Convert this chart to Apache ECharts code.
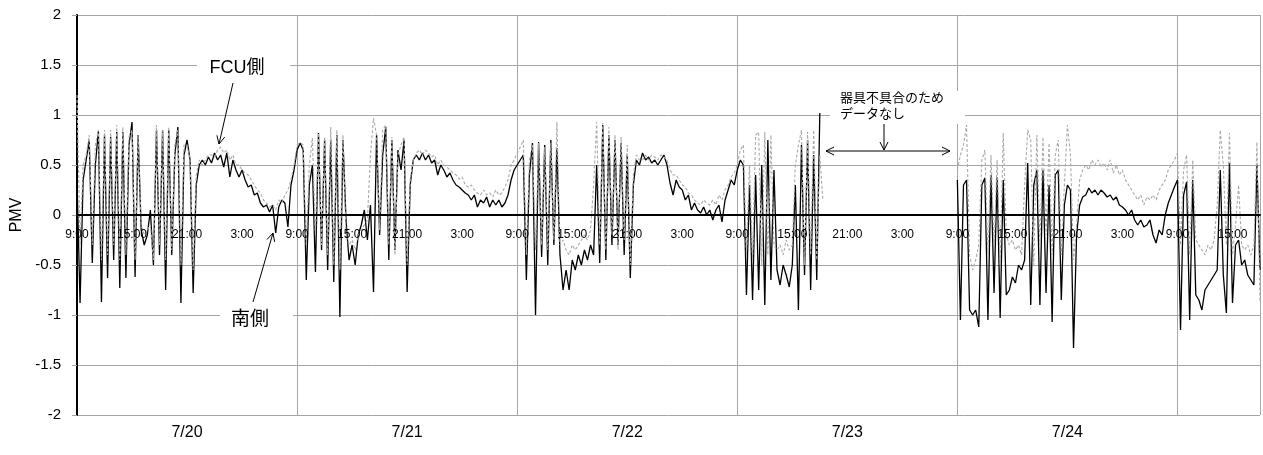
<!DOCTYPE html>
<html><head><meta charset="utf-8">
<script src="https://cdn.jsdelivr.net/npm/echarts@6/dist/echarts.min.js"></script>
<style>html,body{margin:0;padding:0;background:#fff}#c{width:1263px;height:455px}</style>
</head><body><div id="c"></div><script>
// ---- data (PMV, 20-minute readings starting 7/20 9:00) ----
const seriesNames = ['南側', 'FCU側'];
const dateLabels = ['7/20', '7/21', '7/22', '7/23', '7/24'];
const startHour = 9;          // first reading at 9:00
const stepHours = 1 / 3;      // 20 minutes between readings
const pointsPerDay = 72;

const southDay1 = [0.35,-0.88,0.35,0.55,0.75,-0.48,0.5,0.84,-0.87,0.8,-0.63,0.78,
  -0.45,0.83,-0.73,0.83,-0.63,0.7,0.93,-0.62,0.8,-0.15,-0.3,-0.2,
  0.05,-0.5,0.85,-0.4,0.85,-0.75,0.85,-0.4,0.6,0.88,-0.88,0.6,
  0.75,0.55,-0.78,0.3,0.5,0.55,0.5,0.58,0.52,0.62,0.55,0.6,
  0.48,0.62,0.38,0.55,0.45,0.38,0.45,0.35,0.28,0.3,0.2,0.22,
  0.12,0.08,0.1,0.03,0.1,-0.18,0.08,0.15,0.12,-0.12,0.3,0.45];
const fcuDay1 = [1.2,-0.3,0.5,0.6,0.8,-0.3,0.7,0.85,-0.45,0.85,-0.4,0.85,
  -0.3,0.9,-0.45,0.88,-0.4,0.78,0.85,-0.45,0.8,-0.1,-0.2,-0.15,
  -0.1,-0.45,0.9,-0.3,0.85,-0.45,0.88,-0.35,0.7,0.85,-0.5,0.7,
  0.7,0.55,-0.55,0.4,0.55,0.5,0.55,0.6,0.6,0.58,0.65,0.68,
  0.62,0.65,0.55,0.6,0.5,0.5,0.45,0.42,0.4,0.35,0.3,0.25,
  0.22,0.15,0.12,0.08,0.1,0.05,0.15,0.12,0.2,0.25,0.35,0.5];

const southDay2 = [0.65,0.72,0.65,-0.65,0.3,0.5,-0.57,0.82,-0.35,0.75,-0.55,0.75,
  -0.67,0.8,-1.02,0.75,-0.05,-0.45,-0.3,-0.5,-0.2,-0.1,0.05,-0.25,
  0.1,-0.77,0.8,-0.2,0.6,0.88,-0.45,0.75,-0.35,0.65,0.45,0.75,
  -0.77,0.3,0.55,0.6,0.55,0.62,0.55,0.6,0.52,0.55,0.4,0.5,
  0.45,0.38,0.42,0.35,0.3,0.28,0.25,0.22,0.2,0.15,0.2,0.08,
  0.15,0.12,0.18,0.08,0.15,0.1,0.15,0.08,0.12,0.2,0.35,0.45];
const fcuDay2 = [0.7,0.72,0.7,-0.3,0.5,0.77,-0.2,0.82,-0.3,0.78,-0.4,0.88,
  -0.5,0.85,-0.55,0.8,-0.2,-0.3,-0.25,-0.35,-0.2,-0.15,-0.1,-0.05,
  0.6,0.97,0.8,-0.15,0.85,0.9,-0.3,0.78,-0.4,0.6,0.7,0.78,
  -0.5,0.35,0.55,0.62,0.65,0.6,0.65,0.62,0.58,0.6,0.5,0.55,
  0.5,0.48,0.45,0.42,0.4,0.36,0.38,0.3,0.28,0.3,0.25,0.22,
  0.2,0.25,0.2,0.22,0.18,0.25,0.2,0.22,0.28,0.35,0.5,0.55];

const southDay3 = [0.5,0.55,0.6,-0.65,0.4,0.72,-1.0,0.73,-0.42,0.7,-0.5,0.75,
  -0.3,0.67,-0.4,-0.75,-0.55,-0.75,-0.45,-0.55,-0.4,-0.5,-0.35,-0.45,
  -0.3,-0.4,0.5,-0.48,0.9,-0.45,0.8,-0.3,0.75,-0.3,0.72,-0.4,
  0.6,-0.63,0.3,0.55,0.5,0.62,0.55,0.58,0.52,0.55,0.5,0.55,
  0.6,0.5,0.32,0.2,0.35,0.28,0.25,0.15,0.2,0.05,0.12,0.05,
  0.02,0.08,0.0,0.05,-0.05,0.05,0.1,-0.07,0.15,0.25,0.35,0.3];
const fcuDay3 = [0.62,0.68,0.75,-0.4,0.55,0.7,-0.35,0.72,-0.3,0.68,-0.35,0.72,
  -0.25,0.93,-0.3,-0.25,-0.35,-0.4,-0.3,-0.35,-0.3,-0.25,-0.2,-0.25,
  -0.15,0.3,0.93,-0.3,0.92,-0.35,0.88,-0.2,0.8,-0.35,0.78,-0.25,
  0.7,-0.5,0.4,0.6,0.55,0.55,0.6,0.55,0.6,0.58,0.55,0.6,
  0.58,0.55,0.45,0.4,0.4,0.35,0.3,0.28,0.22,0.2,0.15,0.12,
  0.1,0.15,0.12,0.1,0.15,0.1,0.2,0.15,0.25,0.3,0.38,0.42];

// 7/23: readings stop around 18:00 (instrument fault), resume 7/24 9:00
const southDay4 = [0.45,0.55,0.5,-0.8,0.3,-0.85,0.4,-0.75,0.5,-0.9,0.75,-0.65,
  0.45,-0.55,-0.7,-0.5,-0.6,-0.72,-0.5,0.3,-0.95,0.7,-0.6,0.75,
  -0.75,0.6,-0.65,1.02];
const fcuDay4 = [0.5,0.65,0.7,-0.4,0.5,-0.45,0.8,0.83,-0.5,0.83,-0.4,0.8,
  -0.3,-0.35,-0.3,-0.4,-0.25,-0.35,-0.3,0.5,0.7,0.85,-0.5,0.83,
  -0.4,0.85,-0.45,0.6,0.15];

const southDay5 = [0.35,-1.05,0.3,0.35,-0.95,-1.0,-0.95,-1.12,0.3,0.37,-1.05,0.4,
  -0.78,0.38,-1.03,0.35,-0.8,-0.75,-0.62,-0.68,-0.5,-0.55,-0.45,0.52,
  -0.9,0.3,0.45,-0.9,0.45,-0.78,0.3,-1.07,0.4,0.45,-0.85,0.1,
  0.3,0.25,-1.33,-0.2,0.1,0.18,0.2,0.27,0.22,0.25,0.2,0.25,
  0.22,0.18,0.2,0.15,0.18,0.1,0.08,0.05,0.0,0.05,-0.05,-0.1,
  -0.05,-0.12,-0.1,-0.05,-0.2,-0.28,-0.15,-0.2,0.0,0.12,0.2,0.28];
const fcuDay5 = [0.45,0.6,0.7,0.9,-0.4,-0.55,-0.45,-0.3,0.55,0.65,-0.4,0.6,
  -0.3,0.55,-0.5,0.82,-0.2,-0.3,-0.25,-0.35,-0.3,-0.4,0.3,0.85,
  0.75,-0.5,0.8,-0.3,0.78,-0.2,0.72,-0.4,0.6,0.75,-0.4,0.3,
  0.9,0.6,-0.45,-0.1,0.35,0.45,0.5,0.45,0.55,0.5,0.55,0.48,
  0.52,0.45,0.55,0.42,0.5,0.4,0.45,0.35,0.3,0.25,0.2,0.15,
  0.2,0.1,0.18,0.15,0.2,0.15,0.25,0.3,0.35,0.45,0.5,0.55];

const southDay6 = [0.35,-1.15,0.2,0.33,-1.05,0.35,-0.8,-0.85,-0.95,-0.75,-0.7,-0.65,
  -0.6,-0.55,0.45,-0.6,-0.98,0.52,-0.88,-0.3,-0.25,-0.5,-0.45,-0.6,
  -0.65,-0.7,0.5,-0.55];
const fcuDay6 = [0.62,-0.3,0.45,0.6,-0.4,0.55,-0.25,-0.3,-0.35,-0.4,-0.3,-0.35,
  -0.25,0.1,0.85,0.5,-0.3,0.82,-0.4,-0.1,0.3,-0.3,-0.35,-0.3,
  -0.4,-0.3,0.73,-0.88];

const southDays = [southDay1, southDay2, southDay3, southDay4, southDay5, southDay6];
const fcuDays = [fcuDay1, fcuDay2, fcuDay3, fcuDay4, fcuDay5, fcuDay6];

// ---- build [hours since 7/20 9:00, value] pairs; missing readings -> null gap ----
function build(days) {
  const out = [];
  days.forEach((arr, d) => {
    const n = d === days.length - 1 ? arr.length : pointsPerDay;
    for (let j = 0; j < n; j++) {
      const v = j < arr.length ? arr[j] : null;
      out.push([(d * pointsPerDay + j) * stepHours, v]);
    }
  });
  return out;
}
const southData = build(southDays);
const fcuData = build(fcuDays);

const FONT = "'Liberation Sans', Arial, 'Noto Sans CJK JP', sans-serif";
const GRID = '#a6a6a6';
const X_MAX = 129;
const Y_MIN = -2, Y_MAX = 2;

// ---- annotation helpers (pixel layout) ----
function head(px, py, qx, qy) {
  const dx = px - qx, dy = py - qy, L = Math.hypot(dx, dy);
  const ux = dx / L, uy = dy / L, nx = -uy, ny = ux, len = 8, w = 4;
  return { type: 'polyline', z: 101, shape: { points: [
    [px - len * ux + w * nx, py - len * uy + w * ny], [px, py],
    [px - len * ux - w * nx, py - len * uy - w * ny]] },
    style: { stroke: '#000', fill: null, lineWidth: 1 } };
}
function arrow(x1, y1, x2, y2, both) {
  const els = [{ type: 'line', z: 101, shape: { x1, y1, x2, y2 }, style: { stroke: '#000', lineWidth: 1 } },
    head(x2, y2, x1, y1)];
  if (both) els.push(head(x1, y1, x2, y2));
  return els;
}
function box(x, y, w, h) {
  return { type: 'rect', z: 100, shape: { x, y, width: w, height: h }, style: { fill: '#fff' } };
}
function label(text, x, y, size, align) {
  return { type: 'text', z: 102, x, y, style: { text, fill: '#000', fontSize: size,
    fontFamily: FONT, align: align || 'center', verticalAlign: 'middle', lineHeight: size + 3 } };
}

// plot area: left 77, top 15, right edge 1260, bottom 415 ; zero line at y = 215
const PLOT = { left: 77, right: 3, top: 15, bottom: 40 };
const zeroBottom = 455 - (PLOT.top + (Y_MAX / (Y_MAX - Y_MIN)) * (455 - PLOT.top - PLOT.bottom));

const chart = echarts.init(document.getElementById('c'), null, { renderer: 'canvas' });
chart.setOption({
  animation: false,
  backgroundColor: '#fff',
  textStyle: { fontFamily: FONT },
  grid: [
    { left: PLOT.left, right: PLOT.right, top: PLOT.top, bottom: PLOT.bottom, containLabel: false },
    // upper half of the plot; its bottom edge is the PMV = 0 line, carrying the hour axis
    { left: PLOT.left, right: PLOT.right, top: PLOT.top, bottom: zeroBottom, containLabel: false }
  ],
  xAxis: [
    { type: 'value', gridIndex: 0, min: 0, max: X_MAX, interval: 24,
      axisLine: { show: false, onZero: false }, axisTick: { show: false }, axisLabel: { show: false },
      splitLine: { show: true, lineStyle: { color: GRID, width: 1 } } },
    { type: 'value', gridIndex: 0, min: 0, max: X_MAX, interval: 12, position: 'bottom',
      axisLine: { show: false, onZero: false }, axisTick: { show: false }, splitLine: { show: false },
      axisLabel: { fontSize: 16, color: '#000', margin: 10, showMaxLabel: false,
        formatter: v => (v % 24 === 12 ? dateLabels[Math.floor(v / 24)] || '' : '') } },
    { type: 'value', gridIndex: 1, min: 0, max: X_MAX, interval: 6, position: 'bottom', z: 5,
      axisLine: { show: true, onZero: false, lineStyle: { color: '#000', width: 2 } },
      axisTick: { show: false }, splitLine: { show: false },
      axisLabel: { fontSize: 12, color: '#000', margin: 14, showMaxLabel: false,
        formatter: v => ((startHour + v) % 24) + ':00' } }
  ],
  yAxis: [
    { type: 'value', gridIndex: 0, min: Y_MIN, max: Y_MAX, interval: 0.5,
      name: 'PMV', nameLocation: 'middle', nameGap: 46, nameRotate: 90,
      nameTextStyle: { fontSize: 16, color: '#000' },
      axisLine: { show: true, onZero: false, lineStyle: { color: '#000', width: 2 } },
      axisTick: { show: true, length: 5, lineStyle: { color: GRID } },
      axisLabel: { fontSize: 15, color: '#000', margin: 16 },
      splitLine: { show: true, lineStyle: { color: GRID, width: 1 } } },
    { type: 'value', gridIndex: 1, min: 0, max: Y_MAX, show: false }
  ],
  series: [
    { name: seriesNames[0], type: 'line', xAxisIndex: 0, yAxisIndex: 0, data: southData,
      showSymbol: false, connectNulls: false,
      z: 2, lineStyle: { color: '#000', width: 1.3 }, itemStyle: { color: '#000' } },
    { name: seriesNames[1], type: 'line', xAxisIndex: 0, yAxisIndex: 0, data: fcuData,
      showSymbol: false, connectNulls: false,
      z: 3, lineStyle: { color: '#aaaaaa', width: 1.1, type: [3, 2] }, itemStyle: { color: '#aaaaaa' } }
  ],
  graphic: [
    box(197, 57, 93, 23), label('FCU側', 237, 68, 18),
    ...arrow(233, 83, 219, 144),
    box(220, 308, 73, 24), label('南側', 250, 320, 19),
    ...arrow(253, 302, 273, 233),
    box(830, 91, 135, 33),
    label('器具不具合のため\nデータなし', 840, 106, 13, 'left'),
    ...arrow(884, 124, 884, 150),
    ...arrow(826, 151, 950, 151, true)
  ]
});
</script></body></html>
